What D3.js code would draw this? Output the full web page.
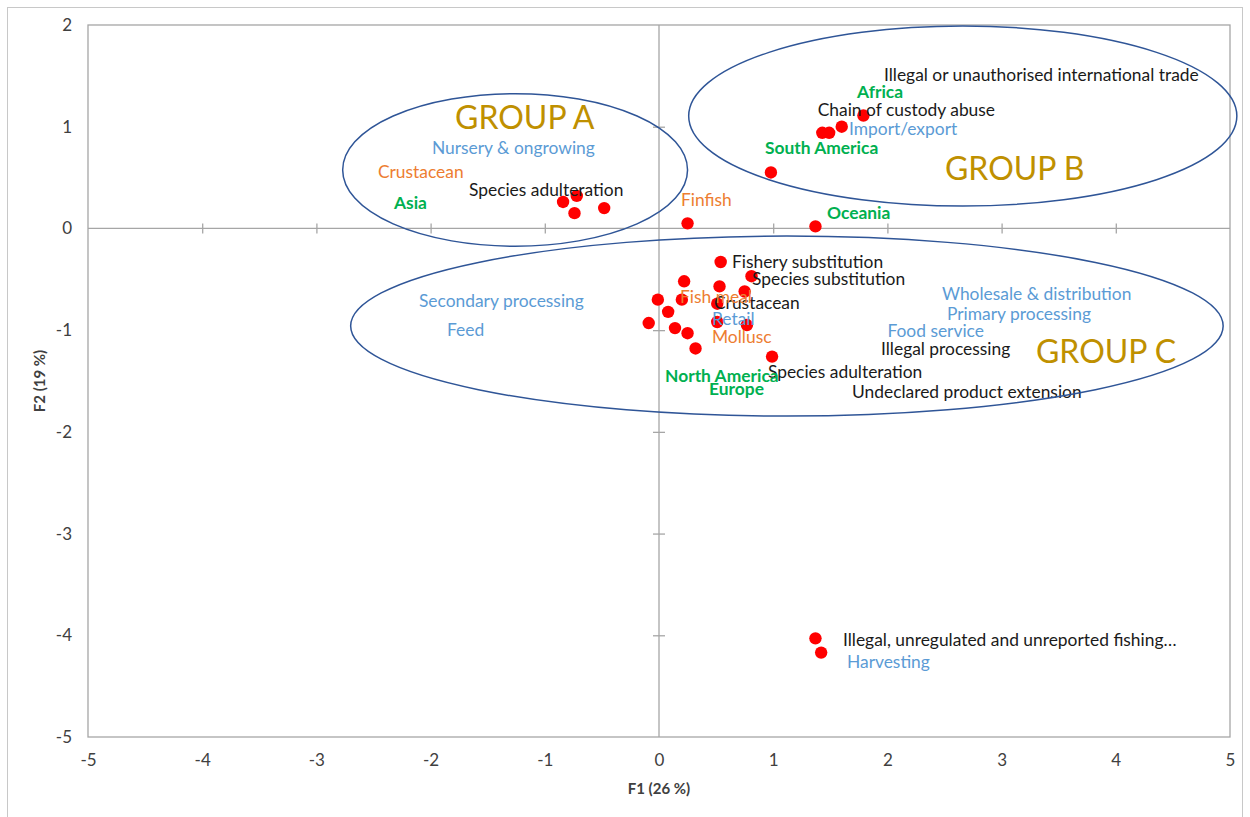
<!DOCTYPE html>
<html><head><meta charset="utf-8">
<script src="https://cdn.jsdelivr.net/npm/d3@7"></script>
<style>body{margin:0;background:#fff;} svg{display:block;}</style>
</head><body>
<svg id="chart" width="1250" height="817"></svg>
<script>
// ---- data ----
const xTicks = [-5,-4,-3,-2,-1,0,1,2,3,4,5];
const yTicks = [2,1,0,-1,-2,-3,-4,-5];
const xTitle = "F1 (26 %)";
const yTitle = "F2 (19 %)";

// observation scores (F1, F2)
const pointsF1 = [-0.84,-0.72,-0.74,-0.48, 0.25,1.37,0.98, 1.43,1.49,1.60,1.79,
  0.54,0.81,0.22,0.53,0.75,-0.01,0.20,0.51,0.08,-0.09,0.14,0.25,0.51,0.77,0.32,0.99,
  1.37,1.42];
const pointsF2 = [0.26,0.32,0.15,0.20, 0.05,0.02,0.55, 0.94,0.94,1.00,1.11,
  -0.33,-0.47,-0.52,-0.57,-0.62,-0.70,-0.70,-0.74,-0.82,-0.93,-0.98,-1.03,-0.92,-0.95,-1.18,-1.26,
  -4.03,-4.17];

// variable labels: text, type, F1, F2
const labelText = ["Illegal or unauthorised international trade","Chain of custody abuse","Species adulteration",
  "Fishery substitution","Species substitution","Crustacean","Illegal processing","Species adulteration",
  "Undeclared product extension","Illegal, unregulated and unreported fishing…",
  "Nursery & ongrowing","Import/export","Secondary processing","Feed","Retail","Wholesale & distribution",
  "Primary processing","Food service","Harvesting",
  "Crustacean","Finfish","Fish meal","Mollusc",
  "Africa","South America","Asia","Oceania","North America","Europe"];
const labelType = ["fraud","fraud","fraud","fraud","fraud","fraud","fraud","fraud","fraud","fraud",
  "stage","stage","stage","stage","stage","stage","stage","stage","stage",
  "species","species","species","species",
  "region","region","region","region","region","region"];
const labelF1 = [1.97,1.39,-1.664,0.639,0.814,0.482,1.944,0.954,1.690,1.611,
  -1.988,1.664,-2.102,-1.856,0.464,2.478,2.522,2.000,1.646,
  -2.461,0.193,0.184,0.464,
  1.734,0.928,-2.321,1.471,0.053,0.438];
const labelF2 = [1.514,1.17,0.374,-0.334,-0.492,-0.728,-1.180,-1.406,-1.603,-4.041,
  0.796,0.974,-0.708,-0.993,-0.885,-0.639,-0.836,-1.003,-4.258,
  0.551,0.285,-0.669,-1.071,
  1.347,0.787,0.246,0.157,-1.446,-1.573];

// groups: name, label position, ellipse centre and radii (data units)
const groupNames = ["GROUP A","GROUP B","GROUP C"];
const groupLabelF1 = [-1.786,2.504,3.301];
const groupLabelF2 = [1.091,0.590,-1.209];
const ellipseCx = [-1.26,2.66,1.12];
const ellipseCy = [0.575,1.105,-0.96];
const ellipseRx = [1.51,2.40,3.82];
const ellipseRy = [0.75,0.885,0.885];

// ---- styles ----
const typeColor = {fraud:"#1a1a1a", stage:"#5b9bd5", species:"#ed7d31", region:"#00b050"};
const font = "Lato, 'Open Sans', sans-serif";

const svg = d3.select("#chart");
svg.append("rect").attr("x",7.5).attr("y",7.5).attr("width",1235).attr("height",830)
  .attr("fill","#fff").attr("stroke","#c8c8c8").attr("stroke-width",1);

const x = d3.scaleLinear().domain([-5,5]).range([88,1230]);
const y = d3.scaleLinear().domain([-5,2]).range([737,25]);

// plot border
svg.append("rect").attr("x",x(-5)).attr("y",y(2)).attr("width",x(5)-x(-5)).attr("height",y(-5)-y(2))
  .attr("fill","none").attr("stroke","#a6a6a6").attr("stroke-width",1.3);

// zero lines with cross ticks
const innerX = xTicks.filter(v=>v>-5&&v<5&&v!==0);
const innerY = yTicks.filter(v=>v>-5&&v<2&&v!==0);
const xAxisG = svg.append("g").attr("transform",`translate(0,${y(0)})`)
  .call(d3.axisBottom(x).tickValues(innerX).tickSize(5).tickFormat(""));
const xAxisG2 = svg.append("g").attr("transform",`translate(0,${y(0)})`)
  .call(d3.axisTop(x).tickValues(innerX).tickSize(5).tickFormat(""));
const yAxisG = svg.append("g").attr("transform",`translate(${x(0)},0)`)
  .call(d3.axisLeft(y).tickValues(innerY).tickSize(6).tickFormat(""));
const yAxisG2 = svg.append("g").attr("transform",`translate(${x(0)},0)`)
  .call(d3.axisRight(y).tickValues(innerY).tickSize(6).tickFormat(""));
[xAxisG,xAxisG2,yAxisG,yAxisG2].forEach(g=>{
  g.selectAll("path.domain").remove();
  g.selectAll("line").attr("stroke","#a6a6a6").attr("stroke-width",1.3);
});
svg.append("line").attr("x1",x(-5)).attr("x2",x(5)).attr("y1",y(0)).attr("y2",y(0))
  .attr("stroke","#a6a6a6").attr("stroke-width",1.3);
svg.append("line").attr("x1",x(0)).attr("x2",x(0)).attr("y1",y(2)).attr("y2",y(-5))
  .attr("stroke","#a6a6a6").attr("stroke-width",1.3);

// tick labels (plain hyphen minus as in the reference)
const fmt = d => String(d);
const bottomAxis = svg.append("g").attr("transform",`translate(0,${y(-5)})`)
  .call(d3.axisBottom(x).tickValues(xTicks).tickSize(0).tickPadding(17).tickFormat(fmt));
const leftAxis = svg.append("g").attr("transform",`translate(${x(-5)},0)`)
  .call(d3.axisLeft(y).tickValues(yTicks).tickSize(0).tickPadding(16).tickFormat(fmt));
[bottomAxis,leftAxis].forEach(g=>{
  g.select("path.domain").remove();
  g.selectAll("text").attr("fill","#404040").style("font-family",font).style("font-size","17px");
});

// axis titles
svg.append("text").attr("x",x(0)).attr("y",789).attr("text-anchor","middle").attr("dy","0.35em")
  .style("font-family",font).style("font-size","15px").style("font-weight","bold").attr("fill","#404040").text(xTitle);
svg.append("text").attr("transform",`translate(40,${y(-1.5)}) rotate(-90)`).attr("text-anchor","middle").attr("dy","0.35em")
  .style("font-family",font).style("font-size","15px").style("font-weight","bold").attr("fill","#404040").text(yTitle);

// points
svg.append("g").selectAll("circle").data(pointsF1.map((v,i)=>[v,pointsF2[i]])).join("circle")
  .attr("cx",d=>x(d[0])).attr("cy",d=>y(d[1])).attr("r",6.2).attr("fill","#ff0000");

// labels
svg.append("g").selectAll("text").data(labelText.map((t,i)=>({t,type:labelType[i],a:labelF1[i],b:labelF2[i]}))).join("text")
  .attr("x",d=>x(d.a)).attr("y",d=>y(d.b)).attr("dy","0.35em")
  .style("font-family",font).style("font-size","17.4px")
  .style("font-weight",d=>d.type==="region"?"bold":"normal")
  .attr("fill",d=>typeColor[d.type]).text(d=>d.t);

// ellipses
svg.append("g").selectAll("ellipse").data(groupNames.map((n,i)=>i)).join("ellipse")
  .attr("cx",i=>x(ellipseCx[i])).attr("cy",i=>y(ellipseCy[i]))
  .attr("rx",i=>x(ellipseRx[i])-x(0)).attr("ry",i=>y(0)-y(ellipseRy[i]))
  .attr("fill","none").attr("stroke","#2f5597").attr("stroke-width",1.5);

// group labels
svg.append("g").selectAll("text").data(groupNames.map((n,i)=>({n,a:groupLabelF1[i],b:groupLabelF2[i]}))).join("text")
  .attr("x",d=>x(d.a)).attr("y",d=>y(d.b)).attr("dy","0.35em")
  .style("font-family",font).style("font-size","32px").attr("fill","#bf9000").text(d=>d.n);
</script>
</body></html>
